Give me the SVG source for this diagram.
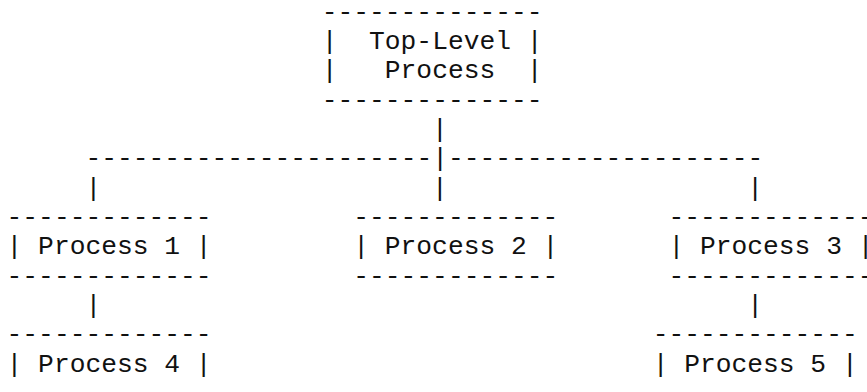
<svg xmlns="http://www.w3.org/2000/svg" width="867" height="392" viewBox="0 0 867 392" xml:space="preserve">
  <style>
    /* monospace grid: 15.76px per column, 29.33px per row */
    text { font-family: "Liberation Mono", "Courier New", monospace; font-size: 26.27px; fill: #111; white-space: pre; }
  </style>
  <rect width="867" height="392" fill="#fff"/>

  <!-- connectors -->
  <g id="connectors">
    <text x="432.12" y="137.02">|</text>
    <text x="85.4" y="166.35">----------------------|--------------------</text>
    <text x="85.4" y="195.68">|</text>
    <text x="432.12" y="195.68">|</text>
    <text x="747.32" y="195.68">|</text>
    <text x="85.4" y="313">|</text>
    <text x="747.32" y="313">|</text>
  </g>

  <!-- nodes -->
  <g id="top-level">
    <text x="321.8" y="19.7">--------------</text>
    <text x="321.8" y="49.03">|  Top-Level |</text>
    <text x="321.8" y="78.36">|   Process  |</text>
    <text x="321.8" y="107.69">--------------</text>
  </g>

  <g id="process-1">
    <text x="6.6" y="225.01">-------------</text>
    <text x="6.6" y="254.34">| Process 1 |</text>
    <text x="6.6" y="283.67">-------------</text>
  </g>

  <g id="process-2">
    <text x="353.32" y="225.01">-------------</text>
    <text x="353.32" y="254.34">| Process 2 |</text>
    <text x="353.32" y="283.67">-------------</text>
  </g>

  <g id="process-3">
    <text x="668.52" y="225.01">-------------</text>
    <text x="668.52" y="254.34">| Process 3 |</text>
    <text x="668.52" y="283.67">-------------</text>
  </g>

  <g id="process-4">
    <text x="6.6" y="342.33">-------------</text>
    <text x="6.6" y="371.66">| Process 4 |</text>
  </g>

  <g id="process-5">
    <text x="652.76" y="342.33">-------------</text>
    <text x="652.76" y="371.66">| Process 5 |</text>
  </g>
</svg>
